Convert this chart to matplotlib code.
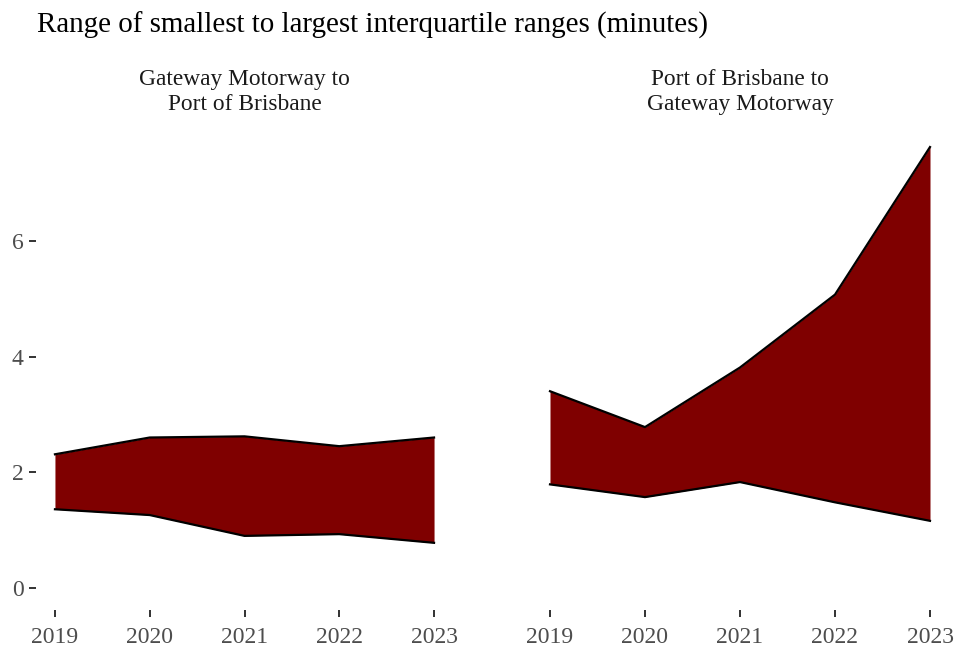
import numpy as np
import matplotlib.pyplot as plt

plt.rcParams['font.family'] = ['Liberation Serif', 'DejaVu Serif']

years = [2019, 2020, 2021, 2022, 2023]
panels = ["Gateway Motorway to\nPort of Brisbane", "Port of Brisbane to\nGateway Motorway"]
# smallest and largest interquartile range per year (minutes)
gw_to_port_low = [1.36, 1.26, 0.90, 0.93, 0.78]
gw_to_port_high = [2.31, 2.60, 2.62, 2.45, 2.60]
port_to_gw_low = [1.79, 1.57, 1.83, 1.48, 1.16]
port_to_gw_high = [3.40, 2.78, 3.81, 5.07, 7.62]

W, H = 960, 653
fig = plt.figure(figsize=(W / 100, H / 100), dpi=100)

def box(l, t, r, b):
    return [l / W, 1 - b / H, (r - l) / W, (b - t) / H]

ax1 = fig.add_axes(box(36, 125, 453, 610))
ax2 = fig.add_axes(box(531, 125, 949, 610))

data = [(gw_to_port_low, gw_to_port_high), (port_to_gw_low, port_to_gw_high)]
ymax = max(port_to_gw_high)
pad = ymax * 0.05
for i, (ax, (lo, hi)) in enumerate(zip([ax1, ax2], data)):
    ax.fill_between(years, lo, hi, color='#7f0000', linewidth=0)
    ax.plot(years, lo, color='black', linewidth=1.6)
    ax.plot(years, hi, color='black', linewidth=1.6)
    ax.set_xlim(2019 - 0.2, 2023 + 0.2)
    ax.set_ylim(-pad, ymax + pad)
    ax.set_xticks(years)
    ax.set_xticklabels([str(y) for y in years])
    ax.set_yticks([0, 2, 4, 6])
    for s in ax.spines.values():
        s.set_visible(False)
    ax.tick_params(axis='both', length=5, width=1.3, color='#222222',
                   labelsize=17, labelcolor='#4d4d4d', pad=4)
    ax.tick_params(axis='x', pad=7)
    if i == 1:
        ax.tick_params(axis='y', left=False, labelleft=False)
    # strip label
    pos = ax.get_position()
    fig.text(pos.x0 + pos.width / 2, 1 - 92 / H, panels[i], fontsize=16.8,
             color='#1a1a1a', ha='center', va='center', linespacing=1.2)

fig.text(37 / W, 1 - 25 / H, "Range of smallest to largest interquartile ranges (minutes)",
         fontsize=20.9, va='center', ha='left', color='black')

fig.savefig('out.png', dpi=100)
